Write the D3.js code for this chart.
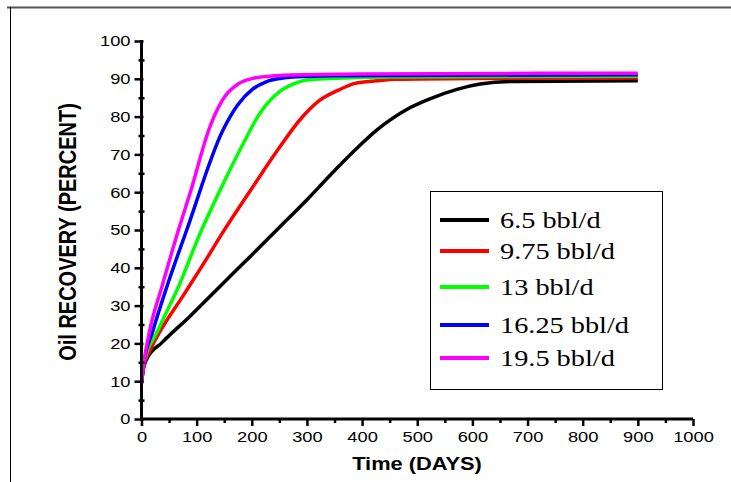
<!DOCTYPE html>
<html><head><meta charset="utf-8">
<script src="https://cdn.jsdelivr.net/npm/d3@7"></script>
<style>body{margin:0;background:#fff}svg{display:block}</style>
</head><body>
<svg id="c" width="731" height="482"></svg>
<script>
const seriesNames = ["6.5 bbl/d","9.75 bbl/d","13 bbl/d","16.25 bbl/d","19.5 bbl/d"];
const seriesColors = ["#000000","#ff0000","#00ff00","#0000ff","#ff00ff"];
const black65 = [[0,9.5],[3,13],[10,16],[37,20.2],[88,27.2],[150,36.2],[200,43.4],[248,50.4],[300,58],[342,64.5],[384,70.7],[427,76.5],[481,81.9],[523,84.7],[572,87.2],[614,88.6],[674,89.3],[900,89.5]];
const red975 = [[0,9.5],[4,14],[15,18],[35,23.5],[75,32.5],[110,40.5],[148,49.5],[200,61],[251,72],[287,79.1],[324,84.4],[357,87],[387,88.8],[427,89.5],[463,89.9],[600,90.1],[900,90.2]];
const green13 = [[0,9.5],[4,14.5],[30,23.5],[67,35],[106,49],[150,62.8],[185,73],[210,79.8],[227,83.3],[251,86.7],[275,88.6],[300,89.7],[342,90.1],[450,90.5],[900,90.7]];
const blue1625 = [[0,9.5],[4,14.5],[21,23.5],[46,35],[82,50],[148,76.5],[174,83],[201,87.2],[226,89.2],[251,90.1],[275,90.5],[350,90.8],[900,91.1]];
const magenta195 = [[0,9.5],[4,14.5],[15,23.5],[37,35],[67,50],[88,59.7],[124,77.3],[151,85.3],[176,88.7],[202,90.1],[233,90.7],[270,91],[400,91.3],[900,91.5]];
const seriesData = [black65, red975, green13, blue1625, magenta195];
const xMajor = d3.range(0,1001,100);
const xMinor = d3.range(50,1000,100);
const yMajor = d3.range(0,101,10);
const yMinor = d3.range(5,100,10);

const svg = d3.select("#c");
const SX = 1.18;
const x = d3.scaleLinear([0,1000],[141.5,693]);
const y = d3.scaleLinear([0,100],[419,41]);

// frame
svg.append("line").attr("x1",7).attr("x2",731).attr("y1",7.5).attr("y2",7.5).attr("stroke","#555").attr("stroke-width",2);
svg.append("line").attr("x1",10.5).attr("x2",10.5).attr("y1",7).attr("y2",482).attr("stroke","#000").attr("stroke-width",1);

// lines
const line = d3.line().x(d=>x(d[0])).y(d=>y(d[1])).curve(d3.curveMonotoneX);
seriesData.forEach((s,i)=>{
  svg.append("path").attr("d",line(s)).attr("fill","none").attr("stroke",seriesColors[i]).attr("stroke-width",3.5).attr("stroke-linejoin","round");
});

// x axis
const gx = svg.append("g").attr("transform",`translate(0,${y(0)})`)
  .call(d3.axisBottom(x).tickValues(xMajor).tickSize(7).tickSizeOuter(0).tickPadding(5).tickFormat(d3.format("d")));
gx.select(".domain").attr("stroke-width",3).attr("d",`M${x(0)},0H${x(1000)}`);
gx.selectAll(".tick line").attr("stroke-width",2.5);
gx.selectAll(".tick text").attr("font-family","Liberation Sans, Arial, sans-serif").attr("font-size",15.5).attr("fill","#000").attr("transform",`scale(${SX},1)`);
const gxm = svg.append("g").attr("transform",`translate(0,${y(0)})`)
  .call(d3.axisBottom(x).tickValues(xMinor).tickSize(4).tickFormat(""));
gxm.select(".domain").remove();
gxm.selectAll(".tick line").attr("stroke-width",2.5);

// y axis
const gy = svg.append("g").attr("transform",`translate(${x(0)},0)`)
  .call(d3.axisLeft(y).tickValues(yMajor).tickSize(7).tickSizeOuter(0).tickPadding(5).tickFormat(d3.format("d")));
gy.select(".domain").attr("stroke-width",3).attr("d",`M0,${y(0)+1.5}V${y(100)-1}`);
gy.selectAll(".tick line").attr("stroke-width",2.5).attr("x2",-7).attr("x1",2);
gy.selectAll(".tick text").attr("font-family","Liberation Sans, Arial, sans-serif").attr("font-size",15.5).attr("fill","#000").attr("transform",`scale(${SX},1)`).attr("x",-11/SX);
const gym = svg.append("g").attr("transform",`translate(${x(0)},0)`)
  .call(d3.axisLeft(y).tickValues(yMinor).tickSize(3).tickFormat(""));
gym.select(".domain").remove();
gym.selectAll(".tick line").attr("stroke-width",2.5).attr("x1",3);

// axis titles
svg.append("text").attr("transform",`translate(417,470) scale(${SX},1)`).attr("text-anchor","middle")
  .attr("font-family","Liberation Sans, Arial, sans-serif").attr("font-weight","bold").attr("font-size",18.5).text("Time (DAYS)");
svg.append("text").attr("transform",`translate(76,232) rotate(-90) scale(1,${SX})`).attr("text-anchor","middle")
  .attr("font-family","Liberation Sans, Arial, sans-serif").attr("font-weight","bold").attr("font-size",20).text("Oil RECOVERY (PERCENT)");

// legend
svg.append("rect").attr("x",430.5).attr("y",191.5).attr("width",232).attr("height",198).attr("fill","#fff").attr("stroke","#000").attr("stroke-width",1);
const rowsY = [220,251,287,325,358];
seriesNames.forEach((n,i)=>{
  svg.append("line").attr("x1",440).attr("x2",489).attr("y1",rowsY[i]).attr("y2",rowsY[i]).attr("stroke",seriesColors[i]).attr("stroke-width",4);
  svg.append("text").attr("transform",`translate(500,${rowsY[i]+8}) scale(${SX},1)`)
    .attr("font-family","Liberation Serif, Times New Roman, serif").attr("font-size",24).attr("fill","#000").text(n);
});
</script>
</body></html>
